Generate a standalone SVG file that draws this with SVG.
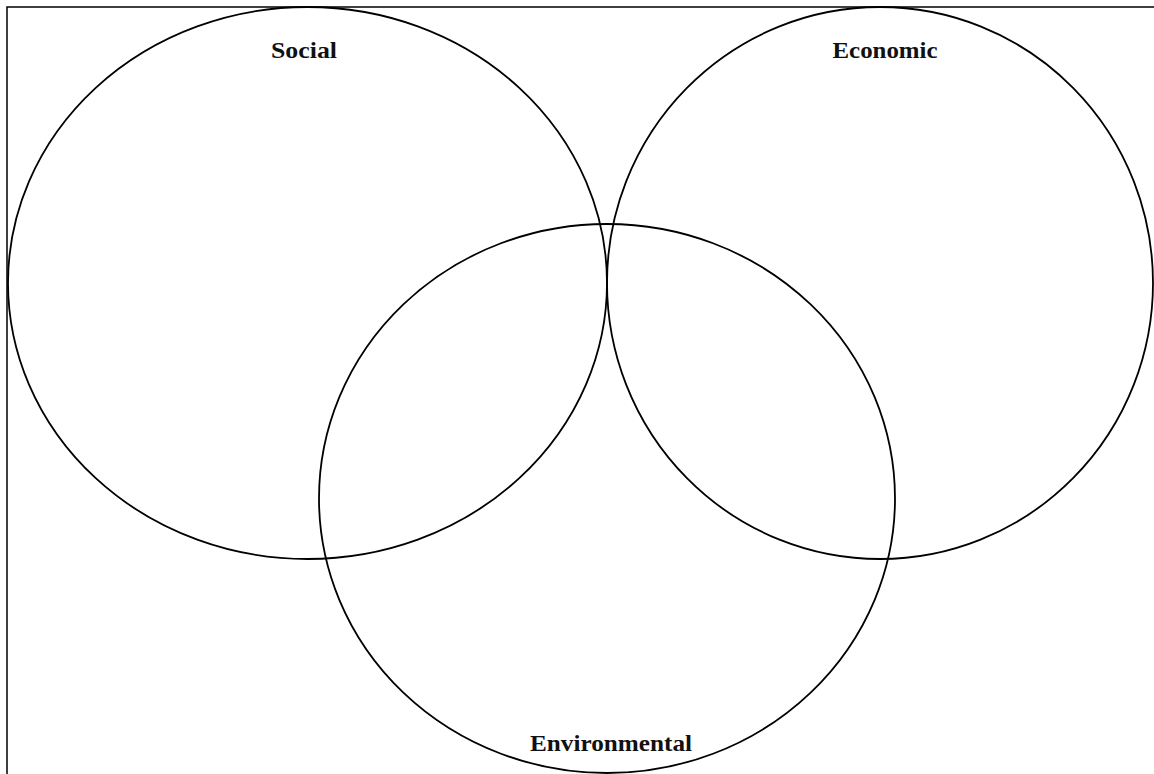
<svg xmlns="http://www.w3.org/2000/svg" width="1154" height="774" viewBox="0 0 1154 774">
  <style>
    .ring { fill: none; stroke: #000; stroke-width: 1.8; }
    .frame { fill: none; stroke: #000; stroke-width: 1.5; }
    .label { font-family: "Liberation Serif", "DejaVu Serif", serif; font-weight: bold; font-size: 24px; fill: #111; text-anchor: middle; }
  </style>
  <rect width="1154" height="774" fill="#fff"/>
  <!-- page frame (open on the right and bottom) -->
  <path class="frame" d="M7 774 V7 H1154"/>
  <g id="social">
    <ellipse class="ring" cx="307.5" cy="283" rx="299.5" ry="276"/>
    <text class="label" x="304" y="58" textLength="66" lengthAdjust="spacingAndGlyphs">Social</text>
  </g>
  <g id="economic">
    <ellipse class="ring" cx="880" cy="283" rx="273" ry="276"/>
    <text class="label" x="885" y="58" textLength="105" lengthAdjust="spacingAndGlyphs">Economic</text>
  </g>
  <g id="environmental">
    <ellipse class="ring" cx="607" cy="498.5" rx="288" ry="274.5"/>
    <text class="label" x="611" y="751" textLength="162" lengthAdjust="spacingAndGlyphs">Environmental</text>
  </g>
  <g id="connectors"/>
</svg>
